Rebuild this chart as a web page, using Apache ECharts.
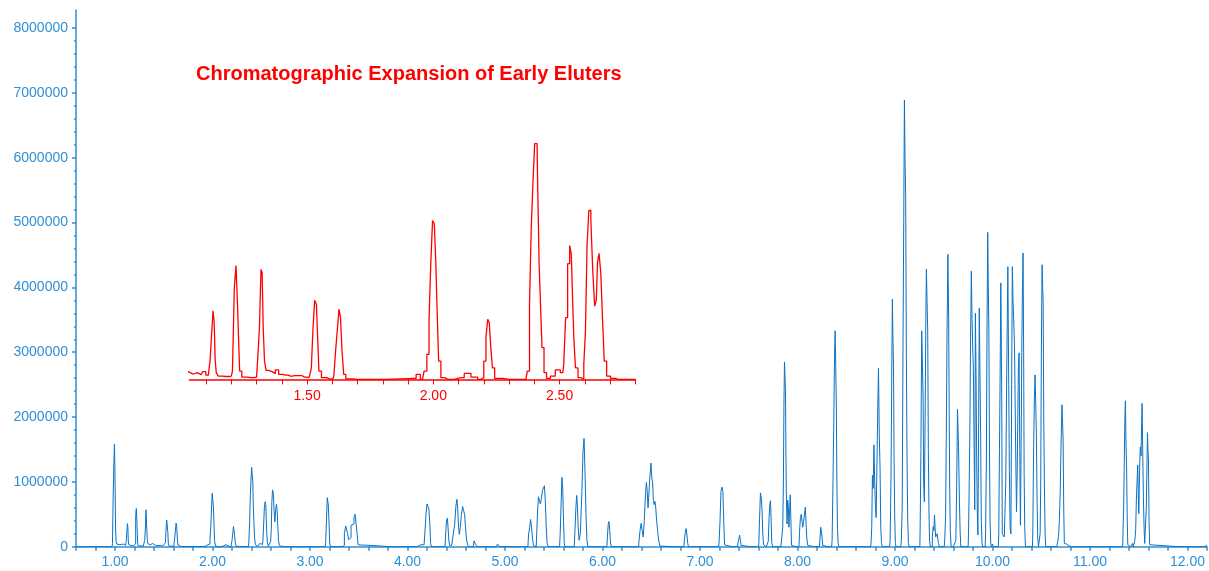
<!DOCTYPE html>
<html>
<head>
<meta charset="utf-8">
<title>Chromatogram</title>
<script src="https://cdn.jsdelivr.net/npm/echarts@6/dist/echarts.min.js"></script>
<style>
  html, body { margin: 0; padding: 0; background: #fff; }
  #main { width: 1209px; height: 571px; }
</style>
</head>
<body>
<div id="main"></div>
<script type="text/javascript">
// retention time (min) vs. counts
var earlyTrace = [
  [0.6,0],[0.97,0],[0.978,0.05e6],[0.985,0.8e6],[0.992,1.3e6],[0.997,1.58e6],[1.003,1.1e6],[1.008,0.3e6],[1.015,0.08e6],
  [1.024,0.04e6],[1.034,0.031e6],[1.05,0.028e6],[1.065,0.035e6],[1.08,0.025e6],[1.093,0.04e6],[1.105,0.022e6],[1.113,0.03e6],
  [1.119,0.1e6],[1.125,0.234e6],[1.13,0.356e6],[1.134,0.3e6],[1.138,0.1e6],[1.143,0.035e6],[1.153,0.017e6],[1.18,0.015e6],[1.2,0.017e6],
  [1.209,0.043e6],[1.215,0.477e6],[1.222,0.59e6],[1.227,0.39e6],[1.231,0.2e6],[1.235,0.043e6],[1.248,0.012e6],[1.28,0.009e6],[1.3,0.012e6],
  [1.308,0.095e6],[1.315,0.27e6],[1.32,0.57e6],[1.324,0.555e6],[1.329,0.26e6],[1.334,0.095e6],[1.341,0.047e6],[1.354,0.04e6],
  [1.368,0.03e6],[1.381,0.049e6],[1.394,0.026e6],[1.415,0.022e6],[1.434,0.017e6],[1.45,0.02e6],[1.467,0.02e6],[1.49,0.012e6],
  [1.507,0.009e6],[1.514,0.02e6],
  [1.52,0.06e6],[1.526,0.25e6],[1.534,0.41e6],[1.54,0.39e6],[1.544,0.217e6],[1.55,0.043e6],[1.564,0.009e6],[1.593,0],[1.603,0.005e6],
  [1.609,0.017e6],[1.617,0.147e6],[1.623,0.26e6],[1.63,0.364e6],[1.635,0.32e6],[1.642,0.147e6],[1.648,0.026e6],[1.659,0.003e6],
  [1.7,0],[1.924,0.005e6],[1.94,0.026e6],[1.957,0],
  [1.97,0.043e6],[1.979,0.13e6],[1.987,0.31e6],[1.993,0.6e6],[2.001,0.824e6],[2.007,0.807e6],[2.013,0.6e6],[2.018,0.34e6],
  [2.024,0.095e6],[2.036,0.009e6],[2.056,0],[2.109,0.009e6],[2.136,0.031e6],[2.162,0.012e6],[2.189,0],
  [2.195,0.009e6],[2.205,0.095e6],[2.212,0.217e6],[2.219,0.312e6],[2.224,0.295e6],[2.23,0.18e6],[2.238,0.06e6],[2.248,0.005e6],
  [2.3,0],[2.367,0],
  [2.377,0.043e6],[2.385,0.39e6],[2.391,0.79e6],[2.398,1.015e6],[2.405,1.223e6],[2.411,1.223e6],[2.416,0.997e6],[2.422,0.6e6],
  [2.427,0.39e6],[2.434,0.165e6],[2.443,0.035e6],[2.454,0.005e6],[2.473,0.017e6],[2.493,0.049e6],[2.513,0.035e6],
  [2.52,0.078e6],[2.528,0.32e6],[2.536,0.6e6],[2.544,0.694e6],[2.549,0.65e6],[2.554,0.425e6],[2.559,0.217e6],[2.567,0.06e6],
  [2.579,0.009e6],[2.593,0],
  [2.599,0.078e6],[2.606,0.25e6],[2.612,0.7e6],[2.62,0.876e6],[2.628,0.824e6],[2.635,0.564e6],[2.643,0.38e6],[2.648,0.41e6],
  [2.653,0.607e6],[2.66,0.654e6],[2.667,0.546e6],[2.673,0.32e6],[2.681,0.095e6],[2.692,0.017e6],[2.712,0.005e6],[2.732,0],[2.8,0]
];

var midTrace = [
  [3.155,0],[3.165,0.05e6],[3.172,0.38e6],[3.182,0.755e6],[3.192,0.66e6],[3.198,0.38e6],[3.207,0.04e6],[3.22,0],
  [3.33,0],[3.345,0.02e6],[3.36,0.2e6],[3.372,0.32e6],[3.381,0.34e6],[3.392,0.2e6],[3.4,0.11e6],[3.41,0.14e6],[3.432,0.33e6],
  [3.445,0.35e6],[3.458,0.46e6],[3.468,0.5e6],[3.478,0.35e6],[3.488,0.2e6],[3.498,0.03e6],[3.51,0.025e6],[3.55,0.025e6],[3.565,0],
  [4.1,0],[4.105,0.03e6],[4.17,0.03e6],[4.185,0.2e6],[4.195,0.5e6],[4.205,0.66e6],[4.214,0.69e6],[4.225,0.58e6],[4.233,0.35e6],
  [4.242,0.05e6],[4.25,0],
  [4.385,0],[4.395,0.15e6],[4.405,0.4e6],[4.412,0.44e6],[4.42,0.3e6],[4.428,0.1e6],[4.436,0.02e6],
  [4.445,0.02e6],[4.462,0.05e6],[4.478,0.2e6],[4.49,0.35e6],[4.503,0.63e6],[4.512,0.73e6],[4.52,0.55e6],[4.528,0.3e6],
  [4.536,0.19e6],[4.547,0.3e6],[4.558,0.48e6],[4.572,0.62e6],[4.581,0.65e6],[4.59,0.5e6],[4.6,0.3e6],[4.612,0.1e6],
  [4.625,0.02e6],[4.64,0],
  [4.675,0],[4.69,0.09e6],[4.705,0.04e6],[4.72,0],
  [4.905,0],[4.915,0.03e6],[4.925,0.04e6],[4.935,0.02e6],[4.945,0],
  [5.235,0],[5.248,0.18e6],[5.258,0.3e6],[5.267,0.42e6],[5.277,0.3e6],[5.288,0.12e6],[5.298,0.02e6],[5.305,0],
  [5.32,0],[5.33,0.2e6],[5.338,0.55e6],[5.35,0.77e6],[5.358,0.7e6],[5.368,0.66e6],[5.38,0.75e6],[5.39,0.87e6],[5.4,0.9e6],
  [5.409,0.94e6],[5.418,0.7e6],[5.428,0.3e6],[5.437,0.05e6],[5.45,0],
  [5.56,0],[5.572,0.2e6],[5.58,0.7e6],[5.588,1.07e6],[5.596,0.9e6],[5.604,0.4e6],[5.612,0.05e6],[5.62,0],
  [5.71,0],[5.722,0.2e6],[5.732,0.6e6],[5.739,0.79e6],[5.746,0.65e6],[5.755,0.3e6],[5.765,0.1e6],[5.78,0.2e6],[5.795,0.8e6],
  [5.805,1.47e6],[5.817,1.67e6],[5.826,1.1e6],[5.835,0.5e6],[5.845,0.1e6],[5.855,0],
  [6.045,0],[6.055,0.15e6],[6.063,0.35e6],[6.07,0.39e6],[6.078,0.25e6],[6.088,0.05e6],[6.095,0],
  [6.37,0],[6.38,0.1e6],[6.39,0.25e6],[6.402,0.36e6],[6.412,0.25e6],[6.422,0.15e6],[6.435,0.4e6],[6.446,0.8e6],[6.454,0.99e6],
  [6.462,0.87e6],[6.472,0.6e6],[6.482,0.62e6],[6.492,1.1e6],[6.502,1.29e6],[6.51,1.05e6],[6.518,1.0e6],[6.526,0.71e6],
  [6.534,0.65e6],[6.542,0.7e6],[6.55,0.6e6],[6.56,0.4e6],[6.57,0.25e6],[6.582,0.1e6],[6.594,0.01e6],[6.6,0],
  [6.835,0],[6.845,0.1e6],[6.855,0.24e6],[6.862,0.28e6],[6.87,0.18e6],[6.878,0.05e6],[6.885,0]
];

var lateTrace = [
  [7.19,0],[7.2,0.05e6],[7.21,0.38e6],[7.22,0.85e6],[7.23,0.92e6],[7.24,0.85e6],[7.248,0.38e6],[7.256,0.03e6],[7.265,0],
  [7.385,0],[7.395,0.06e6],[7.402,0.12e6],[7.41,0.18e6],[7.418,0.1e6],[7.426,0.02e6],[7.435,0],
  [7.6,0],[7.607,0.05e6],[7.615,0.44e6],[7.625,0.83e6],[7.633,0.75e6],[7.64,0.56e6],[7.648,0.2e6],[7.656,0.03e6],[7.665,0],
  [7.695,0],[7.705,0.08e6],[7.712,0.45e6],[7.72,0.65e6],[7.726,0.71e6],[7.732,0.45e6],[7.74,0.06e6],[7.75,0],
  [7.83,0],[7.845,0.02e6],[7.852,0.3e6],[7.858,0.92e6],[7.864,2.2e6],[7.869,2.85e6],[7.875,2.6e6],[7.879,2.39e6],[7.884,1.4e6],
  [7.889,0.72e6],[7.896,0.35e6],[7.903,0.72e6],[7.909,0.61e6],[7.915,0.3e6],[7.922,0.55e6],[7.93,0.8e6],[7.936,0.35e6],
  [7.942,0.02e6],[7.95,0],
  [8.015,0],[8.025,0.2e6],[8.035,0.45e6],[8.042,0.5e6],[8.05,0.52e6],[8.058,0.3e6],[8.067,0.39e6],[8.076,0.5e6],[8.084,0.61e6],
  [8.092,0.35e6],[8.1,0.12e6],[8.11,0.02e6],[8.12,0],
  [8.225,0],[8.235,0.12e6],[8.242,0.3e6],[8.248,0.33e6],[8.255,0.15e6],[8.262,0.02e6],[8.27,0],
  [8.35,0],[8.36,0.1e6],[8.368,1.0e6],[8.376,1.91e6],[8.383,2.9e6],[8.389,3.33e6],[8.395,2.8e6],[8.401,2.21e6],[8.407,1.0e6],
  [8.413,0.28e6],[8.42,0.05e6],[8.43,0],
  [8.75,0],[8.758,0.05e6],[8.765,0.3e6],[8.772,1.1e6],[8.78,0.9e6],[8.788,1.57e6],[8.795,1.0e6],[8.803,0.64e6],[8.81,0.45e6],
  [8.818,1.2e6],[8.826,2.03e6],[8.835,2.75e6],[8.843,1.7e6],[8.85,1.23e6],[8.858,0.3e6],[8.866,0.05e6],[8.875,0],
  [8.945,0],[8.955,0.1e6],[8.963,1.05e6],[8.97,2.6e6],[8.976,3.82e6],[8.982,3.2e6],[8.988,2.78e6],[8.994,1.3e6],[9.0,0.46e6],
  [9.008,0.05e6],[9.015,0],
  [9.06,0],[9.07,0.1e6],[9.078,0.6e6],[9.086,3.08e6],[9.093,5.0e6],[9.1,6.89e6],[9.106,6.0e6],[9.113,5.41e6],[9.12,3.0e6],
  [9.127,1.36e6],[9.134,0.4e6],[9.142,0.05e6],[9.15,0],
  [9.255,0],[9.262,0.36e6],[9.27,1.5e6],[9.278,3.33e6],[9.285,2.8e6],[9.291,2.34e6],[9.297,1.0e6],[9.305,0.69e6],[9.313,2.0e6],
  [9.319,3.5e6],[9.325,4.28e6],[9.332,3.8e6],[9.339,3.33e6],[9.345,1.5e6],[9.35,0.64e6],[9.358,0.1e6],[9.366,0],
  [9.378,0],[9.388,0.15e6],[9.396,0.31e6],[9.402,0.25e6],[9.408,0.49e6],[9.414,0.3e6],[9.42,0.15e6],[9.428,0.12e6],
  [9.436,0.2e6],[9.442,0.2e6],[9.45,0.05e6],[9.46,0],
  [9.505,0],[9.515,0.1e6],[9.523,0.47e6],[9.53,1.8e6],[9.537,3.28e6],[9.548,4.51e6],[9.553,3.5e6],[9.558,2.12e6],[9.564,0.9e6],
  [9.571,0.23e6],[9.58,0],
  [9.62,0],[9.628,0.1e6],[9.636,0.86e6],[9.646,2.12e6],[9.657,1.53e6],[9.665,0.7e6],[9.671,0.23e6],[9.68,0],
  [9.75,0],[9.758,0.2e6],[9.765,1.0e6],[9.771,1.83e6],[9.779,3.2e6],[9.787,4.25e6],[9.794,3.5e6],[9.8,3.08e6],[9.808,2.73e6],
  [9.815,1.5e6],[9.821,0.57e6],[9.828,3.6e6],[9.835,2.6e6],[9.841,1.29e6],[9.848,0.5e6],[9.853,0.18e6],[9.86,1.6e6],
  [9.869,3.68e6],[9.876,2.5e6],[9.881,1.72e6],[9.889,0.4e6],[9.896,0.05e6],[9.905,0],
  [9.925,0],[9.933,0.2e6],[9.941,1.29e6],[9.948,3.5e6],[9.954,4.85e6],[9.96,4.0e6],[9.966,3.3e6],[9.972,1.5e6],[9.978,0.39e6],
  [9.986,0.05e6],[9.995,0],[10.005,0.04e6],[10.015,0],
  [10.06,0],[10.068,0.18e6],[10.075,1.5e6],[10.08,2.52e6],[10.091,4.07e6],[10.097,2.5e6],[10.104,0.2e6],[10.112,0.2e6],
  [10.13,0.15e6],[10.142,1.0e6],[10.152,2.85e6],[10.163,4.32e6],[10.17,2.5e6],[10.176,1.16e6],[10.185,0.3e6],[10.193,0.2e6],
  [10.2,2.5e6],[10.207,4.32e6],[10.214,3.8e6],[10.221,3.5e6],[10.231,3.09e6],[10.241,1.7e6],[10.251,0.54e6],[10.257,1.2e6],
  [10.262,2.0e6],[10.27,2.8e6],[10.276,2.99e6],[10.283,1.5e6],[10.29,0.33e6],[10.297,1.5e6],[10.303,3.0e6],[10.31,3.9e6],
  [10.317,4.53e6],[10.322,3.0e6],[10.327,1.13e6],[10.334,0.3e6],[10.342,0],
  [10.41,0],[10.418,0.3e6],[10.426,1.55e6],[10.433,2.3e6],[10.44,2.65e6],[10.447,2.2e6],[10.453,1.75e6],[10.46,0.8e6],
  [10.467,0.15e6],[10.476,0],
  [10.485,0],[10.492,0.2e6],[10.497,0.95e6],[10.505,3.0e6],[10.512,4.35e6],[10.517,4.0e6],[10.522,3.77e6],[10.529,2.0e6],
  [10.536,0.95e6],[10.543,0.2e6],[10.55,0],
  [10.66,0],[10.672,0.03e6],[10.682,0.16e6],[10.69,0.4e6],[10.699,0.85e6],[10.708,1.6e6],[10.717,2.19e6],[10.722,1.9e6],
  [10.727,1.62e6],[10.734,0.6e6],[10.74,0.05e6],[10.755,0.02e6],[10.768,0.04e6],[10.78,0.01e6],[10.795,0.02e6],[10.81,0],
  [11.335,0],[11.342,0.03e6],[11.348,0.6e6],[11.353,1.16e6],[11.36,1.9e6],[11.366,2.25e6],[11.372,1.6e6],[11.379,1.21e6],
  [11.385,0.4e6],[11.39,0.03e6],[11.4,0],
  [11.432,0],[11.44,0.05e6],[11.448,0],
  [11.455,0],[11.465,0.1e6],[11.472,0.26e6],[11.479,0.72e6],[11.486,1.0e6],[11.493,1.26e6],[11.498,0.8e6],[11.503,0.51e6],
  [11.508,0.9e6],[11.513,1.3e6],[11.52,1.54e6],[11.527,1.4e6],[11.532,1.9e6],[11.537,2.21e6],[11.544,1.5e6],[11.551,0.77e6],
  [11.558,0.3e6],[11.564,0.05e6],[11.574,0.03e6],[11.582,0.62e6],[11.587,1.3e6],[11.592,1.76e6],[11.597,1.5e6],[11.602,1.36e6],
  [11.609,0.4e6],[11.616,0.03e6],[11.63,0],
  [12.19,0],[12.197,0.03e6],[12.2,0]
];

// axis ticks and labels
var timeTicks = [0.6,0.8,1,1.2,1.4,1.6,1.8,2,2.2,2.4,2.6,2.8,3,3.2,3.4,3.6,3.8,4,4.2,4.4,4.6,4.8,5,5.2,5.4,5.6,5.8,6,
  6.2,6.4,6.6,6.8,7,7.2,7.4,7.6,7.8,8,8.2,8.4,8.6,8.8,9,9.2,9.4,9.6,9.8,10,10.2,10.4,10.6,10.8,11,11.2,11.4,11.6,11.8,12,12.2];
var timeLabels = [1,2,3,4,5,6,7,8,9,10,11,12];
var countLabels = [0,1e6,2e6,3e6,4e6,5e6,6e6,7e6,8e6];
var countMinorTicks = [0.2e6,0.4e6,0.6e6,0.8e6,1.2e6,1.4e6,1.6e6,1.8e6,2.2e6,2.4e6,2.6e6,2.8e6,3.2e6,3.4e6,3.6e6,3.8e6,
  4.2e6,4.4e6,4.6e6,4.8e6,5.2e6,5.4e6,5.6e6,5.8e6,6.2e6,6.4e6,6.6e6,6.8e6,7.2e6,7.4e6,7.6e6,7.8e6];
var insetTicks = [1.1,1.2,1.3,1.4,1.5,1.6,1.7,1.8,1.9,2,2.1,2.2,2.3,2.4,2.5,2.6,2.7,2.8];
var insetLabels = [1.5,2,2.5];
var insetTitle = 'Chromatographic Expansion of Early Eluters';

var blue = '#0a72c4';
var axisBlue = '#2f8fd5';
var red = '#ff0000';
var font = 'Liberation Sans, Arial, sans-serif';

var myChart = echarts.init(document.getElementById('main'));

var option = {
  animation: false,
  backgroundColor: '#fff',
  title: {
    text: insetTitle,
    left: 196, top: 64, padding: 0,
    textStyle: { color: red, fontSize: 20, fontWeight: 'bold', fontFamily: font }
  },
  grid: [
    { left: 76, right: 2, top: 10, bottom: 24.3 },
    { left: 189.4, right: 573.7, top: 138.4, bottom: 191.6 }
  ],
  xAxis: [
    {
      type: 'value', gridIndex: 0, min: 0.6, max: 12.2,
      axisLine: { lineStyle: { color: axisBlue, width: 1.5 } },
      axisTick: { customValues: timeTicks, length: 4, lineStyle: { color: axisBlue, width: 1.5 } },
      axisLabel: {
        customValues: timeLabels, color: axisBlue, fontSize: 14, fontFamily: font, margin: 8,
        formatter: function (v) { return v.toFixed(2); }
      },
      splitLine: { show: false }
    },
    {
      type: 'value', gridIndex: 1, min: 1.034, max: 2.8,
      axisLine: { lineStyle: { color: red, width: 1.5 } },
      axisTick: { customValues: insetTicks, length: 5, lineStyle: { color: red, width: 1 } },
      axisLabel: {
        customValues: insetLabels, color: red, fontSize: 14, fontFamily: font, margin: 10,
        formatter: function (v) { return v.toFixed(2); }
      },
      splitLine: { show: false }
    }
  ],
  yAxis: [
    {
      type: 'value', gridIndex: 0, position: 'left', min: 0, max: 8.28e6,
      axisLine: { show: true, lineStyle: { color: axisBlue, width: 1.5 } },
      axisTick: { show: true, customValues: countLabels, length: 4, lineStyle: { color: axisBlue, width: 1.5 } },
      axisLabel: {
        customValues: countLabels, color: axisBlue, fontSize: 14, fontFamily: font, margin: 8,
        formatter: function (v) { return String(v); }
      },
      splitLine: { show: false }
    },
    {
      // minor ticks only, on the same left edge
      type: 'value', gridIndex: 0, position: 'left', offset: 0, min: 0, max: 8.28e6,
      axisLine: { show: false },
      axisTick: { show: true, customValues: countMinorTicks, length: 2, lineStyle: { color: axisBlue, width: 1.5 } },
      axisLabel: { show: false },
      splitLine: { show: false }
    },
    {
      type: 'value', gridIndex: 1, min: 0, max: 1.25e6, show: false,
      splitLine: { show: false }
    }
  ],
  series: [
    {
      name: 'TIC', type: 'line', xAxisIndex: 0, yAxisIndex: 0,
      data: earlyTrace.concat(midTrace, lateTrace),
      showSymbol: false, symbol: 'none', step: 'middle',
      lineStyle: { color: blue, width: 1 },
      clip: true
    },
    {
      name: 'Early eluters', type: 'line', xAxisIndex: 1, yAxisIndex: 2,
      data: earlyTrace,
      showSymbol: false, symbol: 'none', step: 'middle',
      lineStyle: { color: red, width: 1.3 },
      clip: true
    }
  ]
};
myChart.setOption(option);
</script>
</body>
</html>
